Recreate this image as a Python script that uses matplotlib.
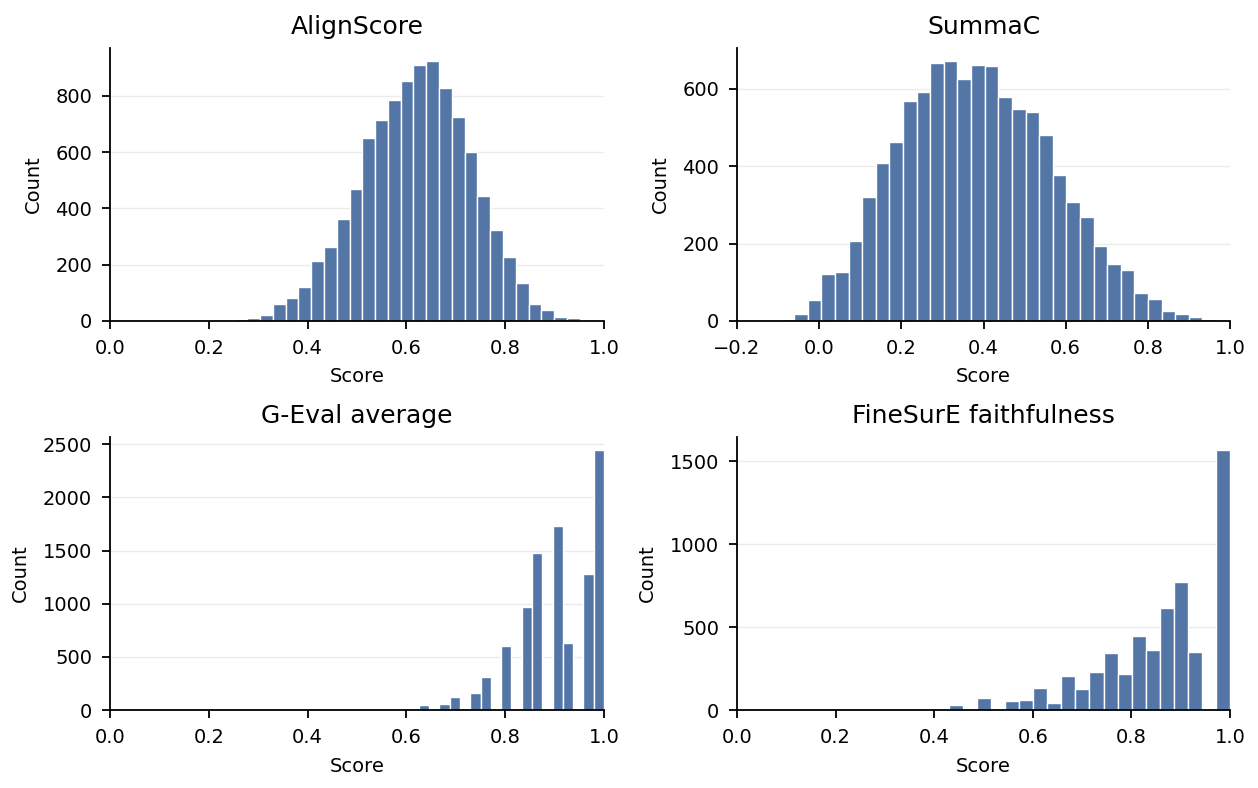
import numpy as np
import matplotlib
matplotlib.use("Agg")
import matplotlib.pyplot as plt
from matplotlib.ticker import MultipleLocator

# histogram counts, left bin -> right bin
align_counts = [1, 3, 6, 12, 22, 60, 82, 120, 213, 262, 361, 469, 652, 716, 786,
                854, 910, 924, 827, 724, 599, 445, 325, 228, 135, 60, 40, 14, 10]
align_range = (0.2, 0.951)

summac_counts = [2, 6, 18, 53, 122, 126, 207, 320, 409, 462, 569, 590, 667, 671,
                 625, 660, 657, 579, 548, 540, 481, 378, 308, 269, 193, 147, 131,
                 72, 57, 26, 17, 10, 6]
summac_range = (-0.127, 0.966)

geval_counts = [6, 9, 0, 46, 0, 58, 127, 0, 160, 310, 0, 606, 0, 965, 1477, 0,
                1728, 629, 0, 1277, 2446]
geval_range = (0.5625, 1.0)

finesure_counts = [31, 0, 71, 0, 55, 61, 130, 41, 204, 126, 228, 342, 216, 448,
                   364, 615, 769, 350, 0, 1567]
finesure_range = (0.43, 1.0)

titles = ["AlignScore", "SummaC", "G-Eval average", "FineSurE faithfulness"]
xlims = [(0.0, 1.0), (-0.2, 1.0), (0.0, 1.0), (0.0, 1.0)]
ysteps = [200, 200, 500, 500]

panels = [(align_counts, align_range), (summac_counts, summac_range),
          (geval_counts, geval_range), (finesure_counts, finesure_range)]

W, H = 1258, 788
fig = plt.figure(figsize=(W / 100, H / 100), dpi=100)

# axes boxes in pixels: left, top, right, bottom
boxes = [(110, 48, 604, 321), (737, 48, 1230, 321),
         (110, 437, 604, 710), (737, 437, 1230, 710)]

bar_color = "#5376a6"

for (counts, (lo, hi)), title, xl, step, (l, t, r, b) in zip(panels, titles, xlims, ysteps, boxes):
    ax = fig.add_axes([l / W, 1 - b / H, (r - l) / W, (b - t) / H])
    edges = np.linspace(lo, hi, len(counts) + 1)
    ax.bar(edges[:-1], counts, width=np.diff(edges), align="edge",
           color=bar_color, edgecolor="white", linewidth=1.0, zorder=2)
    ax.set_xlim(*xl)
    ax.yaxis.set_major_locator(MultipleLocator(step))
    ax.set_title(title, fontsize=18, pad=10)
    ax.set_xlabel("Score", fontsize=14, labelpad=7)
    ax.set_ylabel("Count", fontsize=14, labelpad=9)
    ax.tick_params(labelsize=14, length=5.8, width=1.3, pad=7)
    ax.yaxis.grid(True, color="#ebebeb", linewidth=1.0, zorder=0)
    ax.set_axisbelow(True)
    for s in ["top", "right"]:
        ax.spines[s].set_visible(False)
    for s in ["left", "bottom"]:
        ax.spines[s].set_linewidth(1.3)

fig.savefig("out.png", dpi=100)
